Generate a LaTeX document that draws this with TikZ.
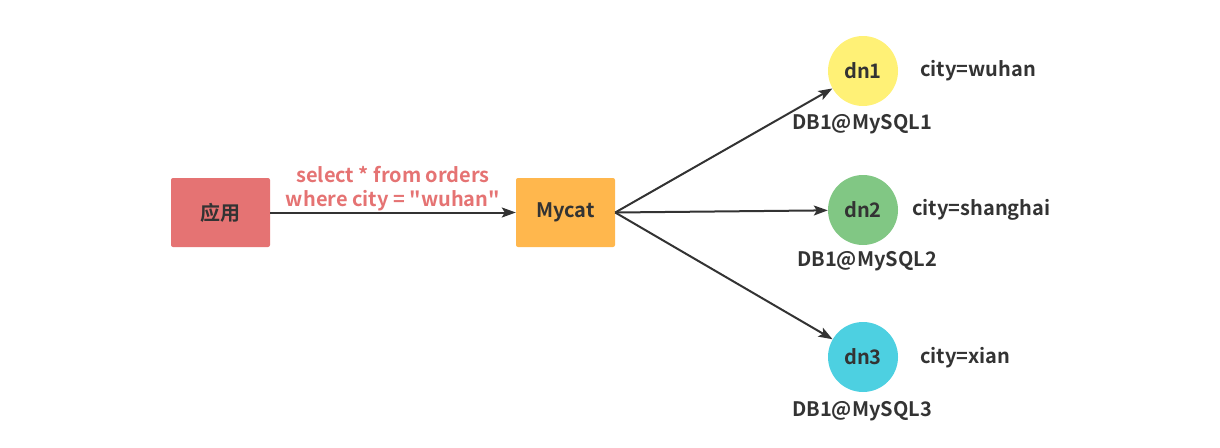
\documentclass[tikz,border=0pt]{standalone}
\usepackage{fontspec}
\setmainfont{Noto Sans CJK SC}[BoldFont={* Bold}, Ligatures=TeXOff]
\usetikzlibrary{arrows.meta}
\definecolor{appred}{RGB}{229,115,115}
\definecolor{mycatorange}{RGB}{255,183,77}
\definecolor{dnyellow}{RGB}{255,241,118}
\definecolor{dngreen}{RGB}{129,199,132}
\definecolor{dncyan}{RGB}{77,208,225}
\definecolor{txt}{RGB}{51,51,51}
\tikzset{
  boxnode/.style={rounded corners=2pt, minimum width=99pt, minimum height=69pt, inner sep=0pt, font=\bfseries\fontsize{20}{24}\selectfont, text=txt},
  dnnode/.style={circle, minimum size=70pt, inner sep=0pt, font=\bfseries\fontsize{20}{24}\selectfont, text=txt},
  lbl/.style={font=\bfseries\fontsize{20}{24}\selectfont, text=txt, inner sep=0pt},
  conn/.style={draw=txt, line width=2pt, -{Stealth[length=14pt,width=10pt,inset=3pt]}},
}
\begin{document}
\begin{tikzpicture}[x=1pt,y=-1pt]
\useasboundingbox (0,0) rectangle (1220,447);
\node[boxnode, fill=appred] (app) at (220.5,212.5) {应用};
\node[boxnode, fill=mycatorange] (mycat) at (565.5,212.5) {Mycat};
\node[dnnode, fill=dnyellow] (dn1) at (863,71) {dn1};
\node[dnnode, fill=dngreen] (dn2) at (863,210) {dn2};
\node[dnnode, fill=dncyan] (dn3) at (863,357) {dn3};
\node[lbl, anchor=west] (c1) at (920,71) {city=wuhan};
\node[lbl, anchor=west] (c2) at (912,210) {city=shanghai};
\node[lbl, anchor=west] (c3) at (920,358) {city=xian};
\node[lbl] (m1) at (862,124) {DB1@MySQL1};
\node[lbl] (m2) at (867,261) {DB1@MySQL2};
\node[lbl] (m3) at (862,411) {DB1@MySQL3};
\draw[conn] (app.east) -- node[above=1pt, align=center, font=\bfseries\fontsize{20}{24}\selectfont, text=appred, inner sep=0pt] {select * from orders\\where city = "wuhan"} (mycat.west);
\draw[conn] (mycat.east) -- (dn1);
\draw[conn] (mycat.east) -- (dn2);
\draw[conn] (mycat.east) -- (dn3);
\end{tikzpicture}
\end{document}
